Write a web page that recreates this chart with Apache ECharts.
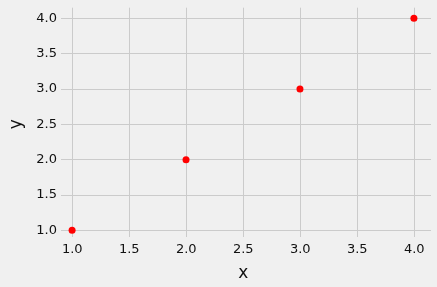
<!DOCTYPE html>
<html>
<head>
<meta charset="utf-8">
<script src="https://cdn.jsdelivr.net/npm/echarts@6/dist/echarts.min.js"></script>
<style>
html,body{margin:0;padding:0;background:#f0f0f0;}
#c{width:437px;height:287px;}
</style>
</head>
<body>
<div id="c"></div>
<script>
const xValues = [1, 2, 3, 4];
const yValues = [1, 2, 3, 4];
const tickMin = 1, tickMax = 4, tickStep = 0.5;
const axisMin = 0.85, axisMax = 4.15;

const chart = echarts.init(document.getElementById('c'), null, {renderer: 'canvas'});
const font = 'DejaVu Sans';
const gridColor = '#cbcbcb';
const pts = xValues.map((x, i) => [x, yValues[i]]);

chart.setOption({
  backgroundColor: '#f0f0f0',
  animation: false,
  grid: [
    {left: 55, right: 6, top: 7.7, bottom: 46.1},
    {left: 72.3, right: 22.7, top: 7.7, bottom: 46.1},
    {left: 55, right: 6, top: 18.3, bottom: 56.7}
  ],
  xAxis: [
    {gridIndex: 0, type: 'value', min: axisMin, max: axisMax, show: false, splitLine: {show: false}},
    {gridIndex: 1, type: 'value', min: tickMin, max: tickMax, interval: tickStep,
     axisLine: {show: false}, axisTick: {show: false},
     axisLabel: {margin: 6, fontFamily: font, fontSize: 13, color: '#111', formatter: v => v.toFixed(1)},
     splitLine: {show: true, lineStyle: {color: gridColor, width: 1}},
     name: 'x', nameLocation: 'middle', nameGap: 28,
     nameTextStyle: {fontFamily: font, fontSize: 17, color: '#111'}},
    {gridIndex: 2, type: 'value', min: axisMin, max: axisMax, show: false, splitLine: {show: false}}
  ],
  yAxis: [
    {gridIndex: 0, type: 'value', min: axisMin, max: axisMax, show: false, splitLine: {show: false}},
    {gridIndex: 1, type: 'value', min: axisMin, max: axisMax, show: false, splitLine: {show: false}},
    {gridIndex: 2, type: 'value', min: tickMin, max: tickMax, interval: tickStep,
     axisLine: {show: false}, axisTick: {show: false},
     axisLabel: {margin: 4, fontFamily: font, fontSize: 13, color: '#111', formatter: v => v.toFixed(1)},
     splitLine: {show: true, lineStyle: {color: gridColor, width: 1}},
     name: 'y', nameLocation: 'middle', nameGap: 36, nameRotate: 90,
     nameTextStyle: {fontFamily: font, fontSize: 17, color: '#111'}}
  ],
  series: [{
    type: 'scatter', xAxisIndex: 0, yAxisIndex: 0,
    data: pts, symbol: 'circle', symbolSize: 7,
    itemStyle: {color: '#ff0000', opacity: 1}
  }]
});
</script>
</body>
</html>
